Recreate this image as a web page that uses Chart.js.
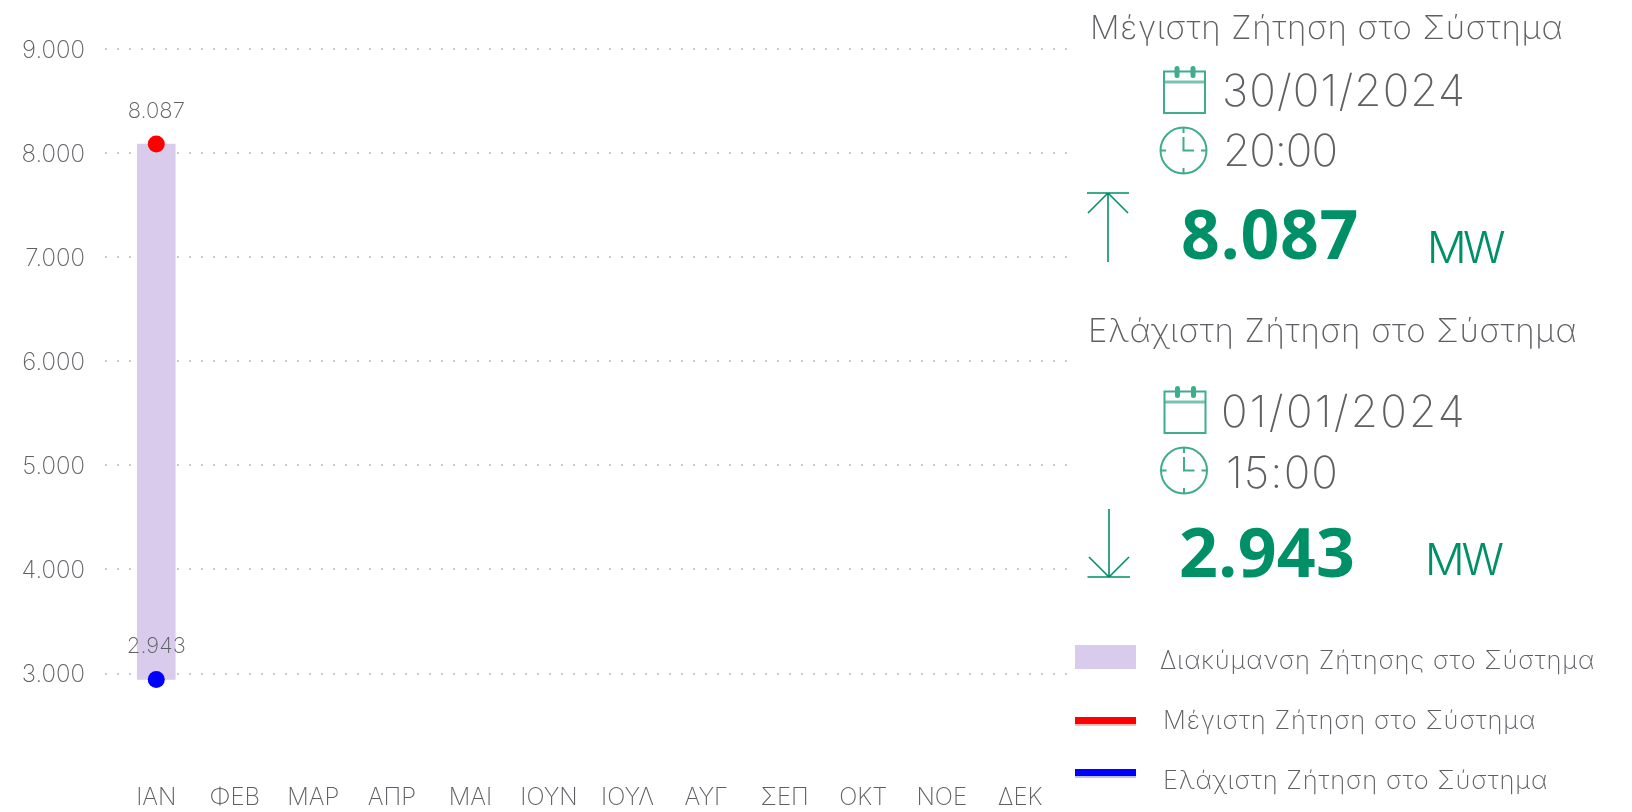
<!DOCTYPE html>
<html lang="el">
<head>
<meta charset="utf-8">
<title>Ζήτηση στο Σύστημα</title>
<script src="https://cdn.jsdelivr.net/npm/chart.js@4/dist/chart.umd.min.js"></script>
<style>
html,body{margin:0;padding:0;background:#fff;width:1632px;height:812px;overflow:hidden}
body{position:relative;font-family:Inter,sans-serif;font-weight:200;color:#5f6064}
#wrap{position:absolute;left:0;top:0;width:1080px;height:812px}
.t{position:absolute;white-space:nowrap;line-height:1;margin:0}
.g{color:#009068;font-weight:300}
.b{font-family:"Open Sans",sans-serif;font-weight:700}
svg{position:absolute;left:0;top:0}
</style>
</head>
<body>
<div id="wrap"><canvas id="c" width="1080" height="812"></canvas></div>
<svg width="1632" height="812" fill="none" stroke="#009068" stroke-width="1.6">
  <path d="M1087 193H1129M1108 193V262M1108 193L1088 213M1108 193L1128 213"/>
  <path d="M1109 509V577M1087.500 577H1130M1109 577L1089 557M1109 577L1129 557"/>
  <g opacity=".75" stroke-width="2">
    <g id="cal">
      <rect x="1164" y="71.500" width="41" height="41.500"/><path d="M1164 82H1205" stroke-width="3" opacity=".7"/>
      <rect x="1175.500" y="67" width="3" height="10" rx="1.500" fill="#009068"/><rect x="1191.500" y="67" width="3" height="10" rx="1.500" fill="#009068"/>
    </g>
    <g id="clk">
      <circle cx="1183.500" cy="150.500" r="23"/><path d="M1183.500 127.500V133M1183.500 168V173.500M1160.500 150.500H1166M1201 150.500H1206.500M1183.500 137V150.500H1194"/>
    </g>
    <use href="#cal" x="0.500" y="320"/>
    <use href="#clk" x="0.500" y="320"/>
  </g>
</svg>
<div id="panel"></div>
<div style="position:absolute;left:1075px;top:645px;width:61px;height:24px;background:#d9cbec"></div>
<div style="position:absolute;left:1075px;top:717px;width:61px;height:7px;background:#ff0000;border-bottom:2px solid #ffbcbc"></div>
<div style="position:absolute;left:1075px;top:769px;width:61px;height:7px;background:#0000ff;border-bottom:2px solid #c0c0ff"></div>
<script>
const months = ['ΙΑΝ','ΦΕΒ','ΜΑΡ','ΑΠΡ','ΜΑΙ','ΙΟΥΝ','ΙΟΥΛ','ΑΥΓ','ΣΕΠ','ΟΚΤ','ΝΟΕ','ΔΕΚ'];
const rangeLow = [2943];
const rangeHigh = [8087];
const maxDemand = [8087];
const minDemand = [2943];
const yTickValues = [3000,4000,5000,6000,7000,8000,9000];
const seriesNames = ['Διακύμανση Ζήτησης στο Σύστημα','Μέγιστη Ζήτηση στο Σύστημα','Ελάχιστη Ζήτηση στο Σύστημα'];
const maxDate = '30/01/2024', maxTime = '20:00';
const minDate = '01/01/2024', minTime = '15:00';
const unit = 'MW';

const fmt = v => String(v).replace(/\B(?=(\d{3})+$)/g,'.');
const TEXT = '#5f6064';
const FONT = 'Inter,sans-serif';
const GRID = '#cccccc';

const pointLabels = {
  id:'pointLabels',
  afterDatasetsDraw(chart){
    const {ctx} = chart;
    [1,2].forEach(i=>{
      chart.getDatasetMeta(i).data.forEach((p,k)=>{
        const v = chart.data.datasets[i].data[k];
        if(v==null) return;
        ctx.save();
        ctx.font = '200 22px '+FONT; ctx.fillStyle = TEXT;
        ctx.textAlign='center'; ctx.textBaseline='alphabetic';
        ctx.fillText(fmt(v), p.x, p.y-26.5);
        ctx.restore();
      });
    });
  }
};

// Carries the dotted grid lines a little past the last category
const gridRun = {
  id:'gridRun',
  beforeDatasetsDraw(chart){
    const {ctx,chartArea:a,scales:{y}} = chart;
    ctx.save();
    ctx.strokeStyle = GRID; ctx.lineWidth = 2;
    ctx.setLineDash([2,10]); ctx.lineDashOffset = (a.right-a.left)%12;
    y.ticks.forEach(t=>{
      const py = Math.round(y.getPixelForValue(t.value));
      ctx.beginPath(); ctx.moveTo(a.right,py); ctx.lineTo(a.right+8,py); ctx.stroke();
    });
    ctx.restore();
  }
};

new Chart(document.getElementById('c'),{
  data:{
    labels:months,
    datasets:[
      {type:'bar',label:seriesNames[0],data:rangeLow.map((l,i)=>[l,rangeHigh[i]]),backgroundColor:'#d9cbec',barThickness:38,order:2},
      {type:'line',label:seriesNames[1],data:maxDemand,showLine:false,pointRadius:8.5,pointBackgroundColor:'#ff0000',pointBorderWidth:0,order:1},
      {type:'line',label:seriesNames[2],data:minDemand,showLine:false,pointRadius:8.5,pointBackgroundColor:'#0000ff',pointBorderWidth:0,order:1}
    ]
  },
  options:{
    responsive:false,animation:false,
    layout:{padding:{left:0,right:20.4,top:49,bottom:0}},
    plugins:{legend:{display:false},tooltip:{enabled:false}},
    scales:{
      x:{
        grid:{display:false},border:{display:false},
        afterFit(a){a.height=34.3;},
        ticks:{color:TEXT,font:{family:FONT,size:24,weight:'200'},padding:-2,maxRotation:0,autoSkip:false}
      },
      y:{
        min:2000,max:9000,
        afterBuildTicks(a){a.ticks=yTickValues.map(value=>({value}));},
        afterFit(a){a.width=117;},
        border:{display:false,dash:[2,10]},
        grid:{color:GRID,lineWidth:2,tickBorderDash:[2,10],tickLength:12,tickColor:GRID,drawTicks:true},
        ticks:{color:TEXT,font:{family:FONT,size:24,weight:'200'},padding:20,labelOffset:1.5,callback:v=>fmt(v)}
      }
    }
  },
  plugins:[pointLabels,gridRun]
});

const texts = [
 [seriesNames[1],1090,39,33,473,''],
 [maxDate,1222,106,44,244,''],
 [maxTime,1223,166,44,114,''],
 [fmt(maxDemand[0]),1181,259,68,178,'g b'],
 [unit,1427,263,44,75,'g'],
 [seriesNames[2],1088,342,33,489,''],
 [minDate,1221,427,44,246,''],
 [minTime,1226,488,44,113,''],
 [fmt(minDemand[0]),1179,577.5,68,176,'g b'],
 [unit,1425,575,44,76,'g'],
 [seriesNames[0],1160,669,25.5,435,''],
 [seriesNames[1],1163,729,25.5,373,''],
 [seriesNames[2],1163,789,25.5,385,'']
];
const panel = document.getElementById('panel');
const probe = document.createElement('canvas').getContext('2d');
texts.forEach(([s,x,base,size,w,cls])=>{
  const d = document.createElement('div');
  d.className = 't '+cls; d.textContent = s;
  d.style.left = x+'px'; d.style.fontSize = size+'px';
  panel.appendChild(d);
  d.style.letterSpacing = ((w-d.getBoundingClientRect().width)/s.length)+'px';
  const cs = getComputedStyle(d);
  probe.font = cs.fontWeight+' '+size+'px '+cs.fontFamily;
  const m = probe.measureText(s);
  const lh = d.getBoundingClientRect().height;
  const asc = m.fontBoundingBoxAscent, desc = m.fontBoundingBoxDescent;
  d.style.top = (base-((lh-(asc+desc))/2+asc))+'px';
});
</script>
</body>
</html>
